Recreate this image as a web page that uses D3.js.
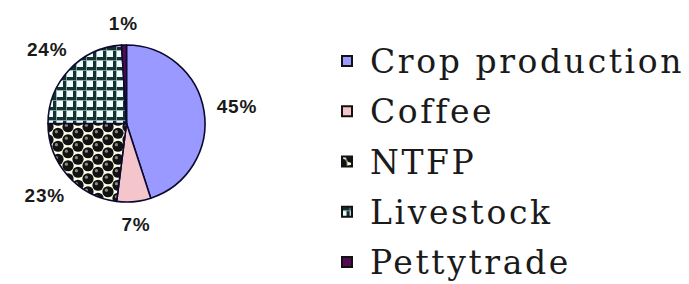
<!DOCTYPE html>
<html><head><meta charset="utf-8">
<script src="https://cdn.jsdelivr.net/npm/d3@7"></script>
<style>html,body{margin:0;padding:0;background:#fff;}svg{display:block;}</style>
</head><body>
<script>
const categories = ["Crop production", "Coffee", "NTFP", "Livestock", "Pettytrade"];
const values = [45, 7, 23, 24, 1];
const labels = ["45%", "7%", "23%", "24%", "1%"];

const W = 689, H = 284;
const cx = 126.5, cy = 123.5, R = 78.5;

const svg = d3.select("body").append("svg").attr("width", W).attr("height", H);
const defs = svg.append("defs");

// grid pattern (Livestock)
const g1 = defs.append("pattern").attr("id", "pGrid").attr("patternUnits", "userSpaceOnUse")
  .attr("width", 10).attr("height", 10).attr("x", cx).attr("y", cy);
g1.append("rect").attr("width", 10).attr("height", 10).attr("fill", "#eefcfc");
g1.append("rect").attr("x", 0).attr("y", 0).attr("width", 10).attr("height", 3.2).attr("fill", "#14302f");
g1.append("rect").attr("x", 0).attr("y", 0).attr("width", 3.2).attr("height", 10).attr("fill", "#14302f");
g1.append("rect").attr("x", 0).attr("y", 3.2).attr("width", 10).attr("height", 0.8).attr("fill", "#8fb0ae");
g1.append("rect").attr("x", 3.2).attr("y", 0).attr("width", 0.8).attr("height", 10).attr("fill", "#8fb0ae");

// sphere pattern (NTFP)
const tw = 20, th = 13;
const g2 = defs.append("pattern").attr("id", "pDots").attr("patternUnits", "userSpaceOnUse")
  .attr("width", tw).attr("height", th).attr("x", cx).attr("y", cy);
g2.append("rect").attr("width", tw).attr("height", th).attr("fill", "#fdfde8");
[[5, 3.25], [15, 9.75], [25, 3.25], [-5, 9.75], [15, -3.25], [5, 16.25], [-5, -3.25], [25, 16.25]].forEach(([x, y]) => {
  g2.append("circle").attr("cx", x).attr("cy", y).attr("r", 5.6).attr("fill", "#111");
  g2.append("circle").attr("cx", x - 1.6).attr("cy", y - 1.6).attr("r", 1.6).attr("fill", "#8a8a80");
});

const fills = ["#9999ff", "#f4c6cc", "url(#pDots)", "url(#pGrid)", "#550a55"];
const color = d3.scaleOrdinal().domain(categories).range(fills);

const data = categories.map((c, i) => ({ cat: c, value: values[i], label: labels[i] }));
const pie = d3.pie().value(d => d.value).sort(null);
const arcs = pie(data);
const arc = d3.arc().innerRadius(0).outerRadius(R);

const gPie = svg.append("g").attr("transform", `translate(${cx},${cy})`);
gPie.selectAll("path").data(arcs).join("path")
  .attr("d", arc)
  .attr("fill", d => color(d.data.cat))
  .attr("stroke", "#0a0a30")
  .attr("stroke-width", 1.6)
  .attr("stroke-linejoin", "round");

// labels
gPie.selectAll("text").data(arcs).join("text")
  .attr("transform", d => {
    const a = (d.startAngle + d.endAngle) / 2;
    const r = 100 + 12 * Math.abs(Math.sin(a));
    return `translate(${r * Math.sin(a)},${-r * Math.cos(a)})`;
  })
  .attr("text-anchor", "middle")
  .attr("dominant-baseline", "central")
  .attr("font-family", "Liberation Sans, Arial, sans-serif")
  .attr("font-weight", "bold")
  .attr("font-size", 19)
  .attr("letter-spacing", 0.8)
  .attr("fill", "#1a1a1a")
  .text(d => d.data.label);

// legend
const ly = d3.scalePoint().domain(categories).range([73, 274]);
const gLeg = svg.append("g");
const items = gLeg.selectAll("g").data(data).join("g")
  .attr("transform", d => `translate(0,${ly(d.cat)})`);
items.append("rect")
  .attr("x", 342).attr("y", -17).attr("width", 10).attr("height", 10)
  .attr("fill", d => color(d.cat))
  .attr("stroke", "#111").attr("stroke-width", 2);
items.append("text")
  .attr("x", 370).attr("y", 0)
  .attr("font-family", "DejaVu Serif, serif")
  .attr("font-size", 33)
  .attr("letter-spacing", 2.6)
  .attr("fill", "#1a1a1a")
  .text(d => d.cat);
</script>
</body></html>
